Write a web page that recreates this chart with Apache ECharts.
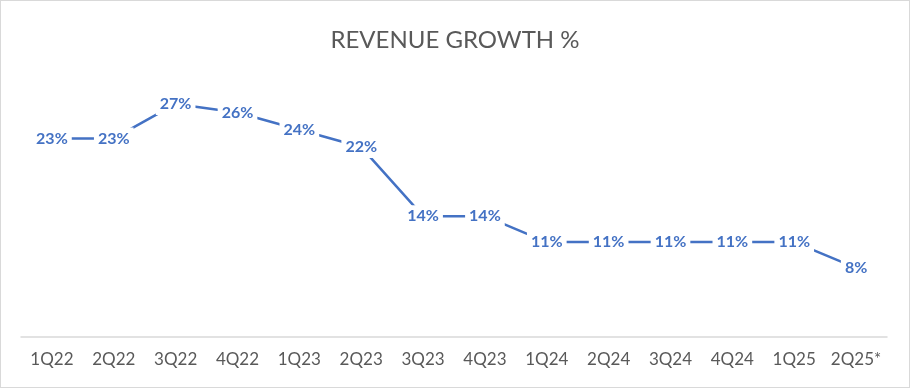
<!DOCTYPE html>
<html><head><meta charset="utf-8">
<script src="https://cdn.jsdelivr.net/npm/echarts@6/dist/echarts.min.js"></script>
<style>
html,body{margin:0;padding:0;background:#fff;}
#c{width:908px;height:386px;border:1px solid #d9d9d9;}
</style></head>
<body><div id="c"></div>
<script>
const categories = ['1Q22','2Q22','3Q22','4Q22','1Q23','2Q23','3Q23','4Q23','1Q24','2Q24','3Q24','4Q24','1Q25','2Q25*'];
const growth = [23,23,27,26,24,22,14,14,11,11,11,11,11,8];

const chart = echarts.init(document.getElementById('c'));
chart.setOption({
  animation:false,
  title:{text:'REVENUE GROWTH %',left:'center',top:22,
    textStyle:{fontFamily:'Lato',fontWeight:'normal',fontSize:24,color:'#595959'}},
  grid:{left:20,right:22,top:77,bottom:50},
  xAxis:{type:'category',data:categories,boundaryGap:true,
    axisLine:{lineStyle:{color:'#d9d9d9',width:1.5}},axisTick:{show:false},
    axisLabel:{interval:0,color:'#595959',fontSize:17,fontFamily:'Lato',margin:14}},
  yAxis:{type:'value',min:0,max:30,show:false,splitLine:{show:false}},
  series:[{type:'line',data:growth,symbol:'circle',symbolSize:1,showSymbol:true,
    itemStyle:{color:'rgba(0,0,0,0)'},
    lineStyle:{color:'#4472C4',width:2.5},
    label:{show:true,position:'inside',formatter:'{c}%',color:'#4472C4',fontWeight:'bold',
      fontSize:16,fontFamily:'Lato',backgroundColor:'#fff',padding:[3,4]}
  }]
});
</script></body></html>
